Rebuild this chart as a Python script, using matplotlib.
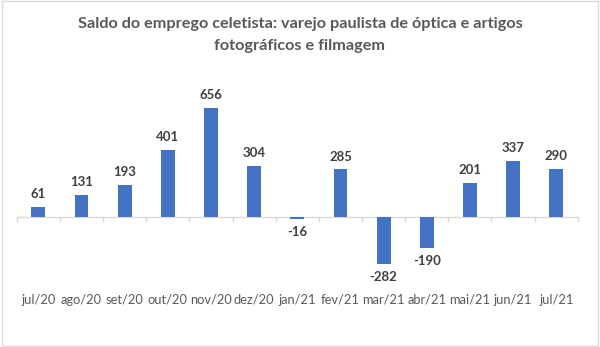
import numpy as np
import matplotlib.pyplot as plt

months = ["jul/20", "ago/20", "set/20", "out/20", "nov/20", "dez/20", "jan/21",
          "fev/21", "mar/21", "abr/21", "mai/21", "jun/21", "jul/21"]
saldo = [61, 131, 193, 401, 656, 304, -16, 285, -282, -190, 201, 337, 290]

plt.rcParams['font.family'] = ['Lato', 'DejaVu Sans']

fig = plt.figure(figsize=(6, 3.47), dpi=100)
ax = fig.add_axes([0.028, 0.184, 0.935, 0.574])

x = np.arange(len(months))
ax.bar(x, saldo, width=0.32, color="#4472c4", zorder=2)

for xi, v in zip(x, saldo):
    if v >= 0:
        ax.annotate(f"{v}", (xi, v), xytext=(0, 5), textcoords="offset points",
                    ha="center", va="bottom", fontsize=9.5, fontweight="bold", color="#404040")
    else:
        ax.annotate(f"{v}", (xi, v), xytext=(0, -5), textcoords="offset points",
                    ha="center", va="top", fontsize=9.5, fontweight="bold", color="#404040")

ax.set_xlim(-0.5, len(months) - 0.5)
ax.set_ylim(-400, 800)
ax.axhline(0, color="#d9d9d9", lw=1, zorder=1)
for s in ax.spines.values():
    s.set_visible(False)
ax.set_yticks([])
ax.set_xticks([])

# category boundary ticks hanging below the zero line
for b in np.arange(-0.5, len(months), 1.0):
    ax.plot([b, b], [0, -25], color="#d9d9d9", lw=1, zorder=1, clip_on=False)

for xi, m in zip(x, months):
    fig.text(ax.transData.transform((xi, 0))[0] / fig.dpi / fig.get_figwidth(),
             1 - 300 / 347, m, ha="center", va="center", fontsize=9.3, color="#595959")

fig.text(0.5, 1 - 24 / 347, "Saldo do emprego celetista: varejo paulista de óptica e artigos",
         ha="center", va="center", fontsize=11.7, fontweight="bold", color="#595959")
fig.text(0.5, 1 - 46 / 347, "fotográficos e filmagem",
         ha="center", va="center", fontsize=11.7, fontweight="bold", color="#595959")

fig.patches.append(plt.Rectangle((0.003, 0.004), 0.994, 0.992, transform=fig.transFigure,
                                 fill=False, edgecolor="#d9d9d9", lw=1))

fig.savefig("out.png", dpi=100)
